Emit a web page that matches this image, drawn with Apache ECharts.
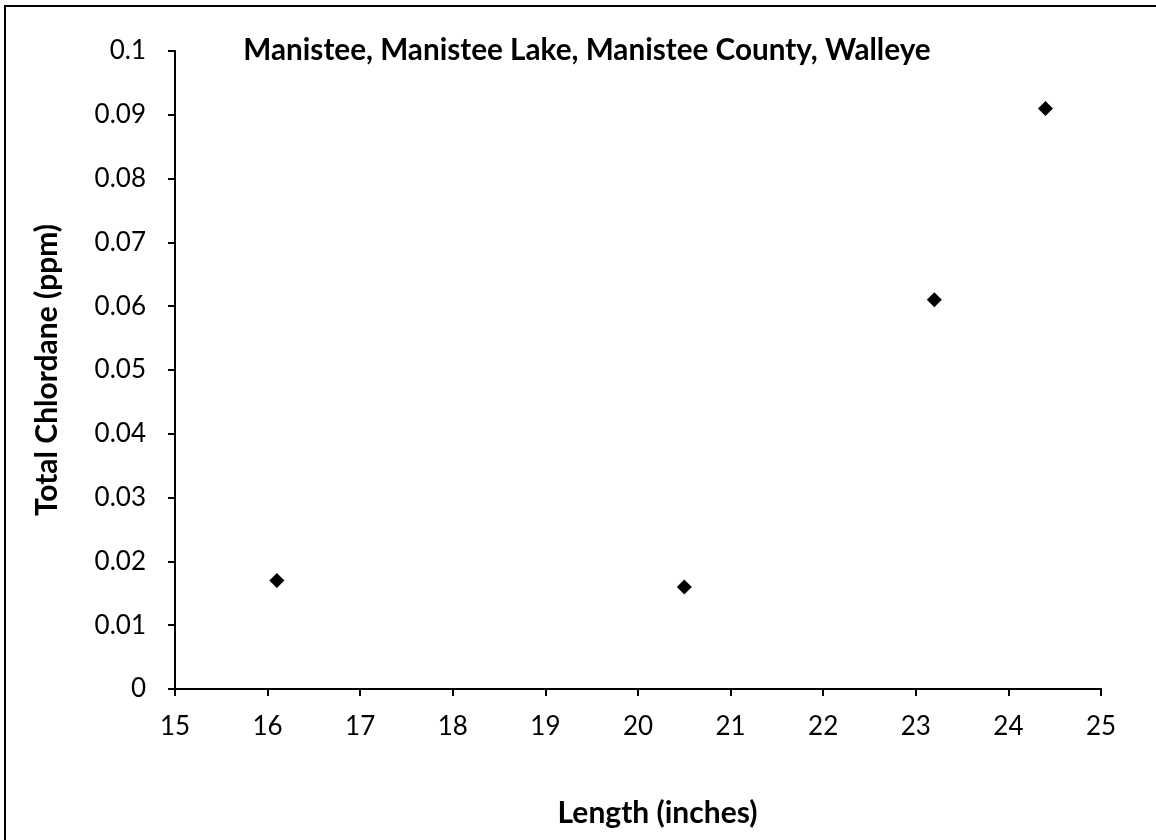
<!DOCTYPE html>
<html><head><meta charset="utf-8">
<script src="https://cdn.jsdelivr.net/npm/echarts@6/dist/echarts.min.js"></script>
<style>html,body{margin:0;padding:0;background:#fff}#c{width:1156px;height:840px}</style>
</head><body><div id="c"></div>
<script>
const titleText = 'Manistee, Manistee Lake, Manistee County, Walleye';
const xName = 'Length (inches)';
const yName = 'Total Chlordane (ppm)';
const lengths = [16.1, 20.5, 23.2, 24.4];
const chlordane = [0.017, 0.016, 0.061, 0.091];

const chart = echarts.init(document.getElementById('c'), null, {renderer: 'canvas'});
const font = 'Lato, "Open Sans", sans-serif';
chart.setOption({
  animation: false,
  backgroundColor: '#fff',
  title: {
    text: titleText, left: 582, top: 30, textAlign: 'center',
    textStyle: {fontFamily: font, fontWeight: 'bold', fontSize: 29.7, color: '#000'}
  },
  graphic: [{
    type: 'rect', shape: {x: 5, y: 6, width: 1200, height: 900},
    style: {fill: 'none', stroke: '#000', lineWidth: 2}, silent: true
  }],
  grid: {left: 175, right: 55, top: 51, bottom: 151},
  xAxis: {
    type: 'value', min: 15, max: 25, interval: 1,
    name: xName, nameLocation: 'middle', nameGap: 109,
    nameTextStyle: {fontFamily: font, fontWeight: 'bold', fontSize: 30, color: '#000', padding: [0, 0, 0, 39]},
    axisLine: {lineStyle: {color: '#000', width: 2}},
    axisTick: {show: true, length: 7, lineStyle: {color: '#000', width: 2}},
    axisLabel: {fontFamily: font, fontSize: 26, color: '#000', margin: 25},
    splitLine: {show: false}
  },
  yAxis: {
    type: 'value', min: 0, max: 0.1, interval: 0.01,
    name: yName, nameLocation: 'middle', nameGap: 113, nameRotate: 90,
    nameTextStyle: {fontFamily: font, fontWeight: 'bold', fontSize: 30, color: '#000'},
    axisLine: {show: true, lineStyle: {color: '#000', width: 2}},
    axisTick: {show: true, length: 7, lineStyle: {color: '#000', width: 2}},
    axisLabel: {fontFamily: font, fontSize: 26, color: '#000', margin: 29,
      formatter: v => String(parseFloat(v.toFixed(3)))},
    splitLine: {show: false}
  },
  series: [{
    type: 'scatter', symbol: 'diamond', symbolSize: 15,
    itemStyle: {color: '#000', opacity: 1},
    data: lengths.map((x, i) => [x, chlordane[i]])
  }]
});
</script></body></html>
